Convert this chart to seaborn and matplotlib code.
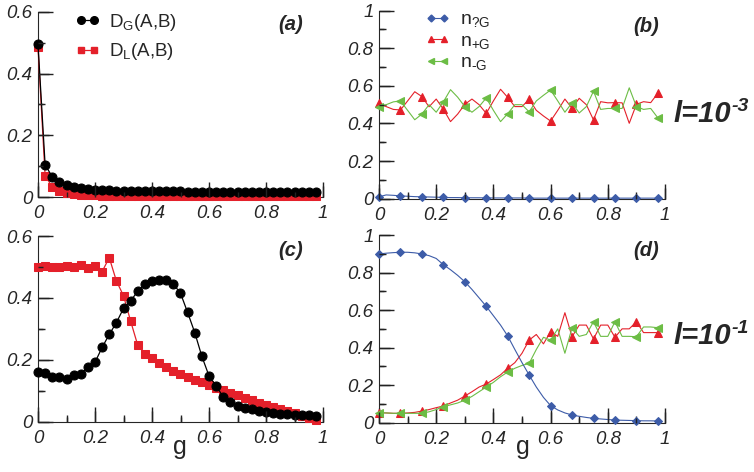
import numpy as np
import matplotlib
matplotlib.use("Agg")
import matplotlib.pyplot as plt
from matplotlib.lines import Line2D
import seaborn as sns

# g grid (40 points, step 0.025)
g = np.linspace(0, 0.975, 40)

# panel (a), l = 1e-3
dg_a = [0.495, 0.104, 0.066, 0.048, 0.039, 0.033, 0.029, 0.026, 0.024, 0.023,
        0.022, 0.021, 0.020, 0.020, 0.019, 0.019, 0.019, 0.018, 0.018, 0.018,
        0.018, 0.017, 0.017, 0.017, 0.017, 0.017, 0.017, 0.016, 0.016, 0.016,
        0.016, 0.016, 0.016, 0.016, 0.016, 0.016, 0.015, 0.015, 0.015, 0.015]
dl_a = [0.485, 0.069, 0.033, 0.019, 0.013, 0.009, 0.007, 0.006, 0.005, 0.004,
        0.004, 0.003, 0.003, 0.003, 0.003, 0.002, 0.002, 0.002, 0.002, 0.002,
        0.002, 0.002, 0.002, 0.002, 0.002, 0.002, 0.002, 0.002, 0.002, 0.002,
        0.002, 0.002, 0.002, 0.002, 0.002, 0.002, 0.002, 0.002, 0.002, 0.002]

# panel (c), l = 1e-1
dg_c = [0.162, 0.158, 0.145, 0.143, 0.139, 0.151, 0.154, 0.176, 0.192, 0.240,
        0.282, 0.320, 0.366, 0.390, 0.422, 0.444, 0.456, 0.458, 0.458, 0.445,
        0.415, 0.353, 0.288, 0.211, 0.148, 0.116, 0.080, 0.065, 0.052, 0.045,
        0.040, 0.035, 0.031, 0.028, 0.026, 0.024, 0.023, 0.022, 0.021, 0.020]
dl_c = [0.500, 0.503, 0.500, 0.500, 0.502, 0.500, 0.505, 0.495, 0.502, 0.485,
        0.530, 0.455, 0.407, 0.325, 0.247, 0.219, 0.206, 0.190, 0.177, 0.165,
        0.155, 0.145, 0.135, 0.127, 0.118, 0.110, 0.102, 0.094, 0.086, 0.078,
        0.070, 0.062, 0.055, 0.048, 0.042, 0.035, 0.028, 0.020, 0.012, 0.005]

# panel (b), l = 1e-3
n0_b = [0.010, 0.020, 0.018, 0.015, 0.013, 0.011, 0.010, 0.009, 0.008, 0.007,
        0.006, 0.006, 0.005, 0.005, 0.005, 0.004, 0.004, 0.004, 0.004, 0.004,
        0.004, 0.003, 0.003, 0.003, 0.003, 0.003, 0.003, 0.003, 0.003, 0.003,
        0.003, 0.003, 0.003, 0.003, 0.003, 0.003, 0.003, 0.003, 0.003, 0.003]
np_b = [0.507, 0.490, 0.475, 0.472, 0.520, 0.569, 0.543, 0.489, 0.530, 0.476,
        0.410, 0.450, 0.502, 0.530, 0.500, 0.454, 0.520, 0.582, 0.539, 0.490,
        0.490, 0.529, 0.470, 0.440, 0.413, 0.470, 0.530, 0.481, 0.534, 0.500,
        0.419, 0.516, 0.510, 0.511, 0.510, 0.401, 0.502, 0.516, 0.511, 0.561]
nm_b = [0.490, 0.500, 0.515, 0.520, 0.470, 0.420, 0.450, 0.500, 0.460, 0.515,
        0.580, 0.540, 0.490, 0.460, 0.490, 0.536, 0.470, 0.410, 0.452, 0.500,
        0.500, 0.462, 0.520, 0.550, 0.578, 0.520, 0.460, 0.510, 0.456, 0.490,
        0.572, 0.475, 0.480, 0.480, 0.480, 0.590, 0.490, 0.475, 0.480, 0.430]

# panel (d), l = 1e-1
n0_d = [0.899, 0.903, 0.906, 0.908, 0.908, 0.905, 0.899, 0.890, 0.875, 0.842,
        0.815, 0.785, 0.751, 0.710, 0.665, 0.620, 0.570, 0.520, 0.462, 0.390,
        0.320, 0.254, 0.190, 0.135, 0.091, 0.068, 0.052, 0.041, 0.034, 0.028,
        0.023, 0.020, 0.017, 0.014, 0.013, 0.012, 0.011, 0.010, 0.010, 0.009]
np_d = [0.053, 0.052, 0.050, 0.050, 0.052, 0.055, 0.062, 0.070, 0.080, 0.089,
        0.105, 0.120, 0.142, 0.165, 0.190, 0.206, 0.230, 0.255, 0.290, 0.320,
        0.370, 0.440, 0.470, 0.420, 0.485, 0.460, 0.586, 0.458, 0.520, 0.520,
        0.446, 0.520, 0.520, 0.455, 0.500, 0.500, 0.538, 0.480, 0.480, 0.480]
nm_d = [0.053, 0.052, 0.050, 0.050, 0.050, 0.050, 0.050, 0.058, 0.070, 0.085,
        0.095, 0.105, 0.120, 0.140, 0.165, 0.190, 0.215, 0.245, 0.270, 0.290,
        0.305, 0.316, 0.390, 0.455, 0.440, 0.500, 0.370, 0.506, 0.460, 0.470,
        0.538, 0.460, 0.460, 0.538, 0.460, 0.460, 0.458, 0.510, 0.510, 0.506]

xt = [0, 0.2, 0.4, 0.6, 0.8, 1.0]
xt_minor = [0.1, 0.3, 0.5, 0.7, 0.9]
xt_labels = ["0", "0.2", "0.4", "0.6", "0.8", "1"]

BLUE = "#3d5ca8"
RED = "#e4202a"
GREEN = "#6cbd45"
TICK = "#222222"

sns.set_style("ticks")
plt.rcParams["font.family"] = ["Liberation Sans", "DejaVu Sans"]
plt.rcParams["mathtext.fontset"] = "custom"
plt.rcParams["mathtext.rm"] = "Liberation Sans"
plt.rcParams["mathtext.it"] = "Liberation Sans:italic"

W, H = 754, 472
fig = plt.figure(figsize=(W / 100, H / 100), dpi=100)


def box(x0, x1, y0, y1):
    return [x0 / W, 1 - y0 / H, (x1 - x0) / W, (y0 - y1) / H]


def style(ax, ymax, yt, yl):
    ax.set_xlim(0, 1)
    ax.set_ylim(0, ymax)
    sns.despine(ax=ax)
    yminor = list(np.arange(1, int(round(ymax * 10)), 2) / 10)
    ax.set_xticks(xt, xt_labels, fontstyle="italic", fontsize=13.5)
    ax.set_xticks(xt_minor, minor=True)
    ax.set_yticks(yt, yl, fontstyle="italic", fontsize=13.5)
    ax.set_yticks(yminor, minor=True)
    ax.tick_params(which="both", direction="in", color=TICK, width=1.0)
    ax.tick_params(which="major", length=11)
    ax.tick_params(which="minor", length=5)
    ax.tick_params(axis="x", which="major", pad=6)
    ax.tick_params(axis="y", which="major", pad=4)
    # inward tick marks, drawn on the axis transforms at the tick positions
    pos = ax.get_position()
    hp, wp = pos.height * H, pos.width * W
    xa, ya = ax.get_xaxis_transform(), ax.get_yaxis_transform()
    ax.vlines(xt, 0, 11 / hp, transform=xa, colors=TICK, lw=1.0, clip_on=False, zorder=6)
    ax.vlines(xt_minor, 0, 5 / hp, transform=xa, colors=TICK, lw=1.0, clip_on=False, zorder=6)
    ax.hlines(yt, 0, 11 / wp, transform=ya, colors=TICK, lw=1.0, clip_on=False, zorder=6)
    ax.hlines(yminor, 0, 5 / wp, transform=ya, colors=TICK, lw=1.0, clip_on=False, zorder=6)
    ax.set_xlim(0, 1)
    ax.set_ylim(0, ymax)


ax_a = fig.add_axes(box(38, 323, 197, 12))
ax_b = fig.add_axes(box(379, 665, 198.7, 10.7))
ax_c = fig.add_axes(box(38, 323, 421.7, 236))
ax_d = fig.add_axes(box(379, 665, 422.7, 235))

# D_G / D_L panels
for ax, dg, dl in [(ax_a, dg_a, dl_a), (ax_c, dg_c, dl_c)]:
    sns.lineplot(x=g, y=dl, ax=ax, color=RED, marker="s", markersize=5.5,
                 markeredgecolor=RED, linewidth=0.9, clip_on=False, zorder=3)
    sns.lineplot(x=g, y=dg, ax=ax, color="black", marker="o", markersize=6.5,
                 markeredgecolor="black", linewidth=0.9, clip_on=False, zorder=4)
    style(ax, 0.6, [0, 0.2, 0.4, 0.6], ["0", "0.2", "0.4", "0.6"])

# n panels
for ax, n0, npl, nmi in [(ax_b, n0_b, np_b, nm_b), (ax_d, n0_d, np_d, nm_d)]:
    sns.lineplot(x=g, y=npl, ax=ax, color=RED, marker="^", markersize=5.5,
                 markeredgecolor=RED, markevery=3, linewidth=0.8,
                 clip_on=False, zorder=3)
    sns.lineplot(x=g, y=nmi, ax=ax, color=GREEN, marker="<", markersize=5.5,
                 markeredgecolor=GREEN, markevery=3, linewidth=0.8,
                 clip_on=False, zorder=3)
    sns.lineplot(x=g, y=n0, ax=ax, color=BLUE, marker="D", markersize=4,
                 markeredgecolor=BLUE, markevery=3, linewidth=0.8,
                 clip_on=False, zorder=4)
    style(ax, 1.0, [0, 0.2, 0.4, 0.6, 0.8, 1.0],
          ["0", "0.2", "0.4", "0.6", "0.8", "1"])

# legends
h_a = [Line2D([], [], color="black", marker="o", markersize=5.5, lw=0.9),
       Line2D([], [], color=RED, marker="s", markersize=4.5, lw=0.9)]
ax_a.legend(h_a, [r"D$_\mathrm{G}$(A,B)", r"D$_\mathrm{L}$(A,B)"],
            loc="upper left", bbox_to_anchor=(0.13, 1.0), frameon=False,
            numpoints=2, handlelength=1.3, handletextpad=0.5,
            labelspacing=0.45, borderpad=0, borderaxespad=0, fontsize=13.5)

h_b = [Line2D([], [], color=BLUE, marker="D", markersize=3.5, lw=0.8),
       Line2D([], [], color=RED, marker="^", markersize=5, lw=0.8),
       Line2D([], [], color=GREEN, marker="<", markersize=5, lw=0.8)]
ax_b.legend(h_b, [r"n$_\mathrm{?G}$", r"n$_\mathrm{+G}$", "n$_\\mathrm{\u2010G}$"],
            loc="upper left", bbox_to_anchor=(0.16, 1.0), frameon=False,
            numpoints=2, handlelength=1.3, handletextpad=0.5,
            labelspacing=0.15, borderpad=0, borderaxespad=0, fontsize=14)

# panel letters
for x, y, s in [(291, 24, "(a)"), (646, 27, "(b)"), (291, 250, "(c)"), (646, 250, "(d)")]:
    fig.text(x / W, 1 - y / H, s, ha="center", va="center", fontsize=14.5,
             fontweight="bold", fontstyle="italic")

# l = 10^-3 / 10^-1
for base, sup in [(122, "-3"), (344, "-1")]:
    fig.text(673 / W, 1 - base / H, "l=10", ha="left", va="baseline",
             fontsize=21, fontweight="bold", fontstyle="italic")
    fig.text(731 / W, 1 - (base - 11) / H, sup, ha="left", va="baseline",
             fontsize=14, fontweight="bold", fontstyle="italic")

# x labels
for x in (180, 523):
    fig.text(x / W, 1 - 447 / H, "g", ha="center", va="center", fontsize=18)

fig.savefig("out.png", dpi=100)
